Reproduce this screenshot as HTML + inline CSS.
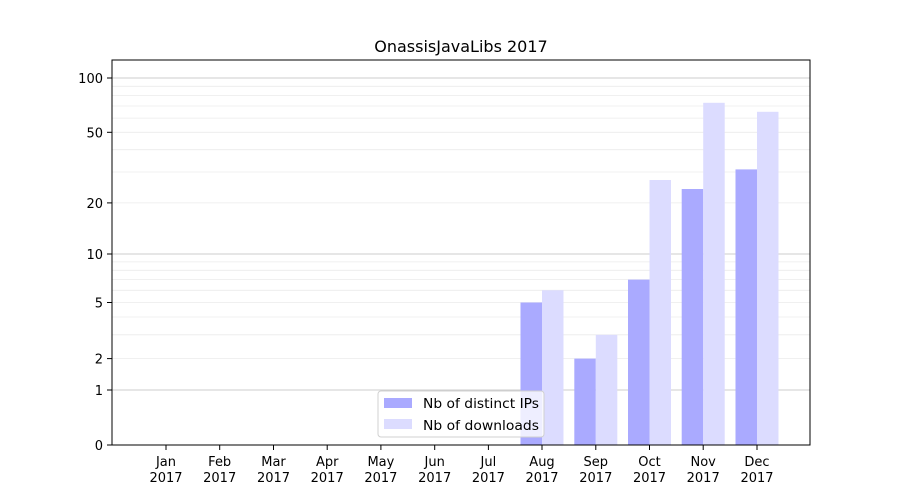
<!DOCTYPE html>
<html><head><meta charset="utf-8"><style>body{margin:0;background:#fff}svg{display:block}</style></head>
<body>
<svg width="900" height="500" xmlns="http://www.w3.org/2000/svg" font-family="'DejaVu Sans','Liberation Sans',sans-serif" font-size="13">
<rect width="900" height="500" fill="#fff"/>
<g stroke="#ebebeb" stroke-width="0.8">
<line x1="112" x2="810" y1="358.6" y2="358.6"/><line x1="112" x2="810" y1="334.8" y2="334.8"/>
<line x1="112" x2="810" y1="317" y2="317"/><line x1="112" x2="810" y1="302.5" y2="302.5"/>
<line x1="112" x2="810" y1="290.3" y2="290.3"/><line x1="112" x2="810" y1="279.6" y2="279.6"/>
<line x1="112" x2="810" y1="270.3" y2="270.3"/><line x1="112" x2="810" y1="261.9" y2="261.9"/>
<line x1="112" x2="810" y1="202.9" y2="202.9"/><line x1="112" x2="810" y1="172" y2="172"/>
<line x1="112" x2="810" y1="149.7" y2="149.7"/><line x1="112" x2="810" y1="132.3" y2="132.3"/>
<line x1="112" x2="810" y1="118.1" y2="118.1"/><line x1="112" x2="810" y1="106" y2="106"/>
<line x1="112" x2="810" y1="95.6" y2="95.6"/><line x1="112" x2="810" y1="86.3" y2="86.3"/>
</g>
<g stroke="#cccccc" stroke-width="1">
<line x1="112" x2="810" y1="390" y2="390"/><line x1="112" x2="810" y1="254" y2="254"/><line x1="112" x2="810" y1="78" y2="78"/>
</g>
<g fill="#aaaaff">
<rect x="520.5" y="302.5" width="21.5" height="142.5"/>
<rect x="574.3" y="358.6" width="21.5" height="86.4"/>
<rect x="628" y="279.6" width="21.5" height="165.4"/>
<rect x="681.7" y="189" width="21.5" height="256"/>
<rect x="735.5" y="169.4" width="21.5" height="275.6"/>
</g>
<g fill="#dcdcff">
<rect x="542" y="290.3" width="21.5" height="154.7"/>
<rect x="595.8" y="334.8" width="21.5" height="110.2"/>
<rect x="649.5" y="180" width="21.5" height="265"/>
<rect x="703.2" y="102.8" width="21.5" height="342.2"/>
<rect x="757" y="111.8" width="21.5" height="333.2"/>
</g>
<rect x="112" y="60" width="698" height="385" fill="none" stroke="#000" stroke-width="1"/>
<g stroke="#000">
<line x1="107" x2="112" y1="445" y2="445"/><line x1="107" x2="112" y1="390" y2="390"/>
<line x1="107" x2="112" y1="358.6" y2="358.6"/><line x1="107" x2="112" y1="302.5" y2="302.5"/>
<line x1="107" x2="112" y1="254" y2="254"/><line x1="107" x2="112" y1="202.9" y2="202.9"/>
<line x1="107" x2="112" y1="132.3" y2="132.3"/><line x1="107" x2="112" y1="78" y2="78"/>
</g>
<g text-anchor="end" font-size="13">
<text x="103" y="450">0</text><text x="103" y="395">1</text><text x="103" y="363.6">2</text>
<text x="103" y="307.5">5</text><text x="103" y="259">10</text><text x="103" y="207.9">20</text>
<text x="103" y="137.3">50</text><text x="103" y="83">100</text>
</g>
<g stroke="#000">
<line x1="166" x2="166" y1="445" y2="450"/><line x1="219.7" x2="219.7" y1="445" y2="450"/>
<line x1="273.5" x2="273.5" y1="445" y2="450"/><line x1="327.2" x2="327.2" y1="445" y2="450"/>
<line x1="380.9" x2="380.9" y1="445" y2="450"/><line x1="434.7" x2="434.7" y1="445" y2="450"/>
<line x1="488.4" x2="488.4" y1="445" y2="450"/><line x1="542" x2="542" y1="445" y2="450"/>
<line x1="595.8" x2="595.8" y1="445" y2="450"/><line x1="649.5" x2="649.5" y1="445" y2="450"/>
<line x1="703.2" x2="703.2" y1="445" y2="450"/><line x1="757" x2="757" y1="445" y2="450"/>
</g>
<g text-anchor="middle" font-size="13">
<text x="166" y="466">Jan</text><text x="166" y="482">2017</text>
<text x="219.7" y="466">Feb</text><text x="219.7" y="482">2017</text>
<text x="273.5" y="466">Mar</text><text x="273.5" y="482">2017</text>
<text x="327.2" y="466">Apr</text><text x="327.2" y="482">2017</text>
<text x="380.9" y="466">May</text><text x="380.9" y="482">2017</text>
<text x="434.7" y="466">Jun</text><text x="434.7" y="482">2017</text>
<text x="488.4" y="466">Jul</text><text x="488.4" y="482">2017</text>
<text x="542" y="466">Aug</text><text x="542" y="482">2017</text>
<text x="595.8" y="466">Sep</text><text x="595.8" y="482">2017</text>
<text x="649.5" y="466">Oct</text><text x="649.5" y="482">2017</text>
<text x="703.2" y="466">Nov</text><text x="703.2" y="482">2017</text>
<text x="757" y="466">Dec</text><text x="757" y="482">2017</text>
</g>
<text x="461" y="52" text-anchor="middle" font-size="16">OnassisJavaLibs 2017</text>
<rect x="378" y="391" width="166" height="46" rx="3" fill="#fff" fill-opacity="0.8" stroke="#d0d0d0"/>
<rect x="384" y="398" width="28" height="10" fill="#aaaaff"/>
<rect x="384" y="419" width="28" height="10" fill="#dcdcff"/>
<text x="423" y="408" textLength="116" lengthAdjust="spacingAndGlyphs">Nb of distinct IPs</text>
<text x="423" y="430" textLength="116" lengthAdjust="spacingAndGlyphs">Nb of downloads</text>
</svg>
</body></html>
